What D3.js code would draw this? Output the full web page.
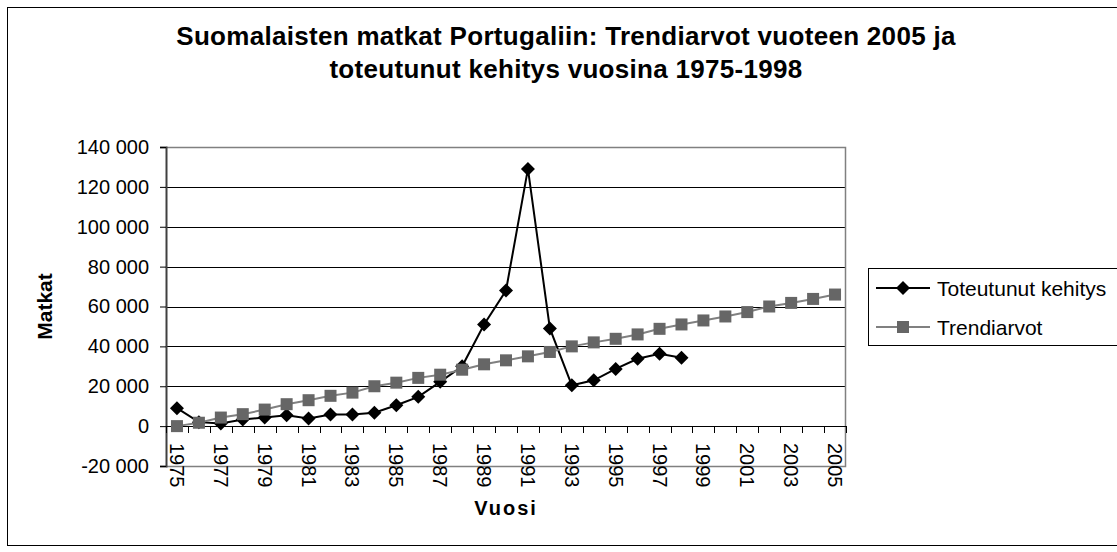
<!DOCTYPE html>
<html><head><meta charset="utf-8">
<script src="https://cdn.jsdelivr.net/npm/d3@7"></script>
<style>body{margin:0;background:#fff}svg{display:block;font-family:"Liberation Sans",Arial,sans-serif}</style>
</head><body><svg id="c" width="1117" height="552"></svg>
<script>
const years = [1975,1976,1977,1978,1979,1980,1981,1982,1983,1984,1985,1986,1987,1988,1989,1990,1991,1992,1993,1994,1995,1996,1997,1998,1999,2000,2001,2002,2003,2004,2005];
const actualValues = [9000,2000,1300,3300,4300,5500,3800,5800,5800,6700,10500,14700,22200,30000,51000,68000,129000,49000,20500,23000,28700,33800,36300,34300];
const trendValues = [0,1700,4300,6000,8300,11000,13000,15200,16800,20000,21800,24200,25800,28300,31000,33000,35000,37200,40000,42000,43800,46000,48800,51000,53000,55000,57200,60000,61800,63800,66000];
const yTicks = [-20000,0,20000,40000,60000,80000,100000,120000,140000];
const seriesNames = ["Toteutunut kehitys","Trendiarvot"];
const titleLines = ["Suomalaisten matkat Portugaliin: Trendiarvot vuoteen 2005 ja","toteutunut kehitys vuosina 1975-1998"];
const xTitle = "Vuosi", yTitle = "Matkat";

const svg = d3.select("#c");
const L=166,R=846,T=147,B=466;
const x = d3.scaleBand().domain(years).range([L,R]).padding(0);
const y = d3.scaleLinear().domain([-20000,140000]).range([B,T]);
const cx = d => x(d)+x.bandwidth()/2;
const loc = d3.formatLocale({decimal:",",thousands:" ",grouping:[3],currency:["",""],minus:"-"});
const fmt = loc.format(",");

// outer chart border
svg.append("rect").attr("x",7.5).attr("y",7.5).attr("width",1140).attr("height",538).attr("fill","#fff").attr("stroke","#000").attr("stroke-width",1);

// title
svg.append("g").selectAll("text").data(titleLines).join("text")
  .attr("x",566).attr("y",(d,i)=>45+i*33).attr("text-anchor","middle")
  .attr("font-size",26).attr("letter-spacing",0.3).attr("font-weight","bold").text(d=>d);

// gridlines
svg.append("g").selectAll("line").data(yTicks.filter(v=>v>-20000)).join("line")
  .attr("x1",L).attr("x2",R).attr("y1",d=>Math.round(y(d))+0.5).attr("y2",d=>Math.round(y(d))+0.5)
  .attr("stroke","#000").attr("stroke-width",1);
// plot border (top/right/bottom)
svg.append("path").attr("d",`M${L},${T+0.5}H${R-0.5}V${B+0.5}H${L}`).attr("fill","none").attr("stroke","#808080").attr("stroke-width",1.5);

// y axis
const ya = svg.append("g").attr("transform",`translate(${L},0)`)
  .call(d3.axisLeft(y).tickValues(yTicks).tickFormat(fmt).tickSize(6).tickPadding(11));
ya.select(".domain").attr("stroke","#404040").attr("stroke-width",2);
ya.selectAll(".tick line").attr("stroke","#000");
ya.selectAll("text").attr("font-size",20).attr("font-family","Liberation Sans, Arial, sans-serif").attr("fill","#000");

// x axis at zero line
const bounds = years.map(d=>x(d)).concat([R]);
const xa = svg.append("g");
xa.append("line").attr("x1",L).attr("x2",R).attr("y1",Math.round(y(0))+0.5).attr("y2",Math.round(y(0))+0.5).attr("stroke","#000");
xa.selectAll("line.t").data(bounds).join("line").attr("class","t")
  .attr("x1",d=>Math.round(d)+0.5).attr("x2",d=>Math.round(d)+0.5)
  .attr("y1",Math.round(y(0))).attr("y2",Math.round(y(0))+7).attr("stroke","#000");
xa.selectAll("text").data(years.filter((d,i)=>i%2===0)).join("text")
  .attr("transform",d=>`translate(${cx(d)},443) rotate(90)`)
  .attr("dominant-baseline","central").attr("font-size",20).text(d=>d);

// axis titles
svg.append("text").attr("x",506).attr("y",515).attr("text-anchor","middle")
  .attr("font-size",20).attr("font-weight","bold").attr("letter-spacing",2).text(xTitle);
svg.append("text").attr("transform",`translate(52,${(T+B)/2}) rotate(-90)`).attr("text-anchor","middle")
  .attr("font-size",21).attr("font-weight","bold").text(yTitle);

// series
const line = d3.line().x((d,i)=>cx(years[i])).y(d=>y(d));
function drawDiamond(sel){ sel.attr("d","M0,-7L7,0L0,7L-7,0Z"); }

const gA = svg.append("g");
gA.append("path").datum(actualValues).attr("d",line).attr("fill","none").attr("stroke","#000").attr("stroke-width",2);
gA.selectAll("path.m").data(actualValues).join("path").attr("class","m")
  .attr("transform",(d,i)=>`translate(${cx(years[i])},${y(d)})`).call(drawDiamond).attr("fill","#000");

const gT = svg.append("g");
gT.append("path").datum(trendValues).attr("d",line).attr("fill","none").attr("stroke","#808080").attr("stroke-width",2);
gT.selectAll("rect").data(trendValues).join("rect")
  .attr("x",(d,i)=>cx(years[i])-6).attr("y",d=>y(d)-6).attr("width",12).attr("height",12).attr("fill","#666666");

// legend
const lg = svg.append("g");
lg.append("rect").attr("x",868.5).attr("y",268.5).attr("width",270).attr("height",77).attr("fill","#fff").attr("stroke","#000");
const ly = [288,327];
lg.selectAll("line").data(seriesNames).join("line").attr("x1",876).attr("x2",930)
  .attr("y1",(d,i)=>ly[i]).attr("y2",(d,i)=>ly[i]).attr("stroke",(d,i)=>i?"#808080":"#000").attr("stroke-width",2);
lg.append("path").attr("transform",`translate(903,${ly[0]})`).call(drawDiamond).attr("fill","#000");
lg.append("rect").attr("x",897).attr("y",ly[1]-6).attr("width",12).attr("height",12).attr("fill","#666666");
lg.selectAll("text").data(seriesNames).join("text").attr("x",937).attr("y",(d,i)=>ly[i])
  .attr("dominant-baseline","central").attr("font-size",21).text(d=>d);
</script></body></html>
